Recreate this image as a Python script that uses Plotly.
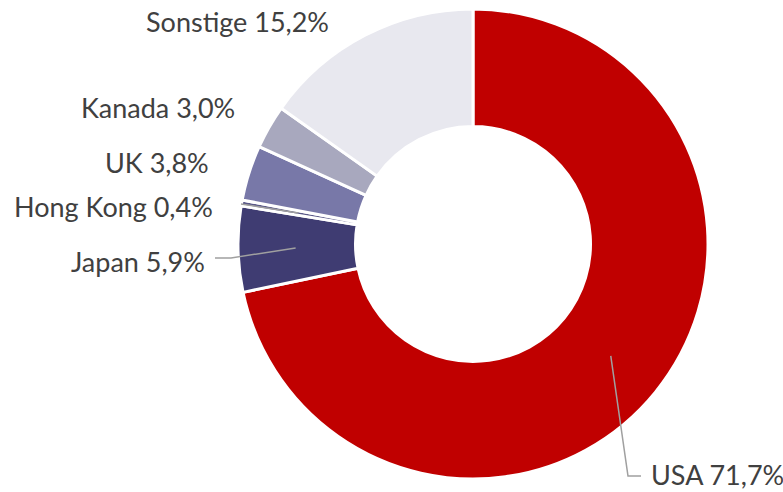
import math
import plotly.graph_objects as go

labels = ["USA", "Japan", "Hong Kong", "UK", "Kanada", "Sonstige"]
values = [71.7, 5.9, 0.4, 3.8, 3.0, 15.2]
value_text = ["71,7%", "5,9%", "0,4%", "3,8%", "3,0%", "15,2%"]
colors = ["#C00000", "#3F3C72", "#5A5888", "#7878A8", "#A8A8BE", "#E8E8EF"]

W, H = 783, 492
CX, CY, R = 473, 244, 235

fig = go.Figure(go.Pie(
    labels=labels,
    values=values,
    sort=False,
    direction="clockwise",
    rotation=0,
    hole=0.5,
    marker=dict(colors=colors, line=dict(color="white", width=3)),
    textinfo="none",
    hoverinfo="label+percent",
    domain=dict(x=[(CX - R) / W, (CX + R) / W], y=[(H - CY - R) / H, (H - CY + R) / H]),
    showlegend=False,
))

def px(x, y):
    return x / W, 1 - y / H

total = sum(values)
mids = []
cum = 0
for v in values:
    mids.append((cum + v / 2) / total * 360)
    cum += v

def anchor(i, frac=0.755):
    a = math.radians(mids[i])
    return CX + R * frac * math.sin(a), CY - R * frac * math.cos(a)

font = dict(family="Source Sans Pro, Lato, sans-serif", size=27, color="#404040")
line_col = "#A0A0A0"

place = {
    "Sonstige": dict(pos=(331, 22), xanchor="right", leader=None),
    "Kanada": dict(pos=(237, 107), xanchor="right", leader=None),
    "UK": dict(pos=(211, 162), xanchor="right", leader=None),
    "Hong Kong": dict(pos=(215, 207), xanchor="right", leader=[(241, 204)]),
    "Japan": dict(pos=(207, 261), xanchor="right", leader=[(231, 258), (215, 258)]),
    "USA": dict(pos=(649, 474), xanchor="left", leader=[(628, 476), (641, 476)]),
}

for i, lab in enumerate(labels):
    p = place[lab]
    x, y = px(*p["pos"])
    fig.add_annotation(x=x, y=y, xref="paper", yref="paper", text=f"{lab} {value_text[i]}",
                       showarrow=False, xanchor=p["xanchor"], yanchor="middle", font=font)
    if p["leader"]:
        pts = [anchor(i)] + p["leader"]
        path = "M " + " L ".join(f"{px(a, b)[0]},{px(a, b)[1]}" for a, b in pts)
        fig.add_shape(type="path", path=path, xref="paper", yref="paper",
                      line=dict(color=line_col, width=1.5))

fig.update_layout(width=W, height=H, margin=dict(l=0, r=0, t=0, b=0),
                  paper_bgcolor="white", plot_bgcolor="white")
fig.write_html("out.html", config={"displayModeBar": False},
               post_script="document.body.style.margin='0';")
